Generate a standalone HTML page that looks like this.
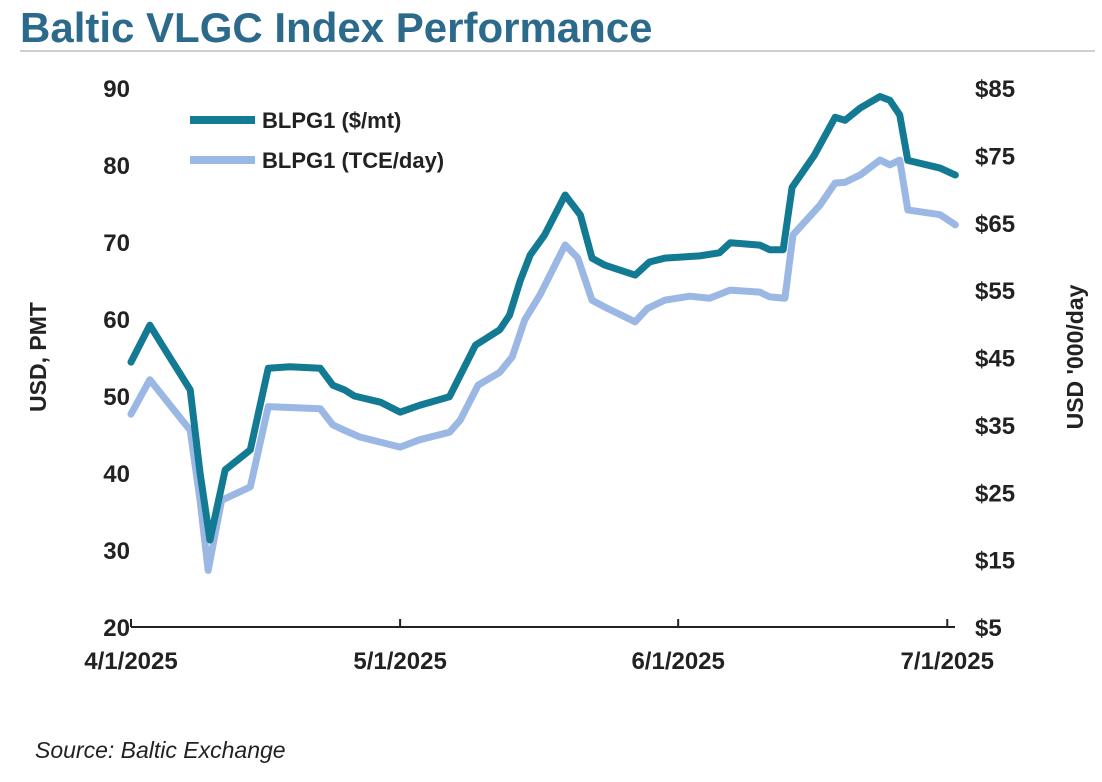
<!DOCTYPE html>
<html><head><meta charset="utf-8"><style>
body{margin:0;background:#fff;width:1102px;height:777px;overflow:hidden;font-family:"Liberation Sans",Arial,sans-serif}
</style></head><body>
<svg width="1102" height="777">
<text x="20" y="42" font-size="42" font-weight="bold" fill="#2b6a8a">Baltic VLGC Index Performance</text>
<line x1="20" y1="51" x2="1095" y2="51" stroke="#cfcfcf" stroke-width="2"/>
<g id="axes"></g>
<g id="series"></g>
<g>
<line x1="190" y1="120" x2="255" y2="120" stroke="#137a93" stroke-width="8"/>
<text x="262" y="128" font-size="22" font-weight="bold" fill="#222">BLPG1 ($/mt)</text>
<line x1="190" y1="160" x2="255" y2="160" stroke="#9ab8e3" stroke-width="8"/>
<text x="262" y="168" font-size="22" font-weight="bold" fill="#222">BLPG1 (TCE/day)</text>
</g>
<text transform="translate(46,357) rotate(-90)" text-anchor="middle" font-size="23" font-weight="bold" fill="#222">USD, PMT</text>
<text transform="translate(1083,357) rotate(-90)" text-anchor="middle" font-size="23" font-weight="bold" fill="#222">USD '000/day</text>
<text x="35" y="758" font-size="23" font-style="italic" fill="#222">Source: Baltic Exchange</text>
</svg>
<script>
const leftTicks=[20,30,40,50,60,70,80,90];
const rightTicks=["$5","$15","$25","$35","$45","$55","$65","$75","$85"];
const xTickDays=[0,30,61,91];
const xTickLabels=["4/1/2025","5/1/2025","6/1/2025","7/1/2025"];
const mtDays=[0,2.1,3.8,6.6,7.7,8.8,10.5,13.3,15.3,17.7,21.1,22.5,23.8,24.9,27.8,30,32.2,35.5,38.4,41.1,42.2,43.4,44.5,46.1,48.4,50.1,51.4,52.8,56.2,57.8,59.5,63.4,65.6,66.8,70.1,71.2,72.7,73.7,76.2,78.5,79.6,81.3,83.5,84.6,85.7,86.6,90.2,91.9];
const mtValues=[54.4,59.2,56,50.8,40,31.3,40.4,43,53.6,53.8,53.6,51.4,50.8,50,49.2,47.9,48.8,49.9,56.6,58.6,60.5,65,68.3,70.9,76.1,73.5,67.9,67,65.7,67.4,67.9,68.2,68.6,69.9,69.6,69,69,77.1,81.3,86.2,85.8,87.4,88.9,88.4,86.5,80.6,79.6,78.7];
const tceDays=[0,2.1,6.6,7.7,8.6,10.1,13.3,15.3,21.1,22.5,23.8,25.5,30,32.2,35.5,36.7,38.7,41.1,42.5,43.9,45.6,48.4,49.8,51.4,52.8,56.2,57.6,59.5,62.3,64.5,66.8,70.1,71.2,72.9,73.8,76.8,78.5,79.6,81.3,83.5,84.6,85.7,86.6,90.2,91.9];
const tceValues=[36.6,41.7,34.2,23.8,13.4,23.8,25.8,37.7,37.4,35,34.2,33.2,31.7,32.8,33.9,35.7,40.9,42.8,45.1,50.6,54.3,61.7,59.8,53.5,52.5,50.3,52.3,53.5,54.1,53.8,55,54.7,54,53.8,63.2,67.6,70.9,71,72.1,74.3,73.6,74.3,66.9,66.2,64.7];
const NS="http://www.w3.org/2000/svg";
const x=d=>131+d*8.97;
const yL=v=>627-(v-20)*7.7;
const yR=v=>627-(v-5)*6.7375;
const axes=document.getElementById('axes'),series=document.getElementById('series');
function mk(tag,attrs,parent,txt){const e=document.createElementNS(NS,tag);for(const k in attrs)e.setAttribute(k,attrs[k]);if(txt!==undefined)e.textContent=txt;parent.appendChild(e);return e;}
let ax=mk('line',{x1:131,y1:627,x2:955,y2:627,stroke:'#222','stroke-width':2},axes);


leftTicks.forEach(v=>{let t=mk('text',{x:130,y:yL(v)+9,'text-anchor':'end','font-size':24,'font-weight':'bold',fill:'#222'},axes,v);

});
rightTicks.forEach((s,i)=>{let t=mk('text',{x:975,y:yR(5+i*10)+9,'font-size':24,'font-weight':'bold',fill:'#222'},axes,s);

});
xTickDays.forEach((d,i)=>{let l=mk('line',{x1:x(d),y1:619,x2:x(d),y2:627,stroke:'#222','stroke-width':2},axes);


let t=mk('text',{x:x(d),y:669,'text-anchor':'middle','font-size':24,'font-weight':'bold',fill:'#222'},axes,xTickLabels[i]);

});
function line(days,vals,f,color){return mk('polyline',{points:days.map((d,i)=>x(d)+','+f(vals[i])).join(' '),fill:'none',stroke:color,'stroke-width':7,'stroke-linejoin':'round','stroke-linecap':'round'},series);}
let l2=line(tceDays,tceValues,yR,'#9ab8e3');


let l1=line(mtDays,mtValues,yL,'#137a93');


</script>
</body></html>
